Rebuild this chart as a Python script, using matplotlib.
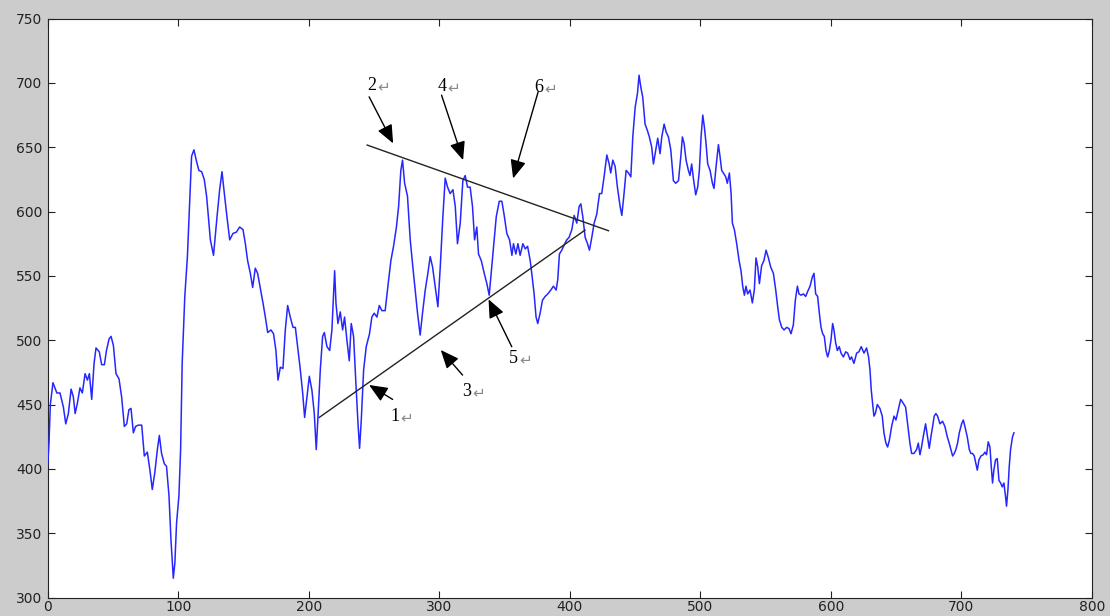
import matplotlib
matplotlib.use("Agg")
import matplotlib.pyplot as plt

# sampled series: index positions and prices
idx = [0, 1, 2, 4, 7, 9.4, 12, 13.8, 15.8, 17.9, 19.6, 21, 22.7, 24.7, 26.5, 28.6, 30.4, 31.9,
       33.7, 35.5, 37, 39.5, 41.3, 43.4, 45, 47, 48.5, 50.3, 52.3, 54.6, 56.6, 58.7, 60.5, 62.2,
       63.8, 65.6, 67.3, 69.4, 72, 74, 76.3, 78.3, 80.1, 82, 84, 85.5, 87.2, 89.3, 91, 92.9, 94.4,
       96.2, 97.4, 98.7, 100.5, 101.8, 103, 105, 107, 108.9, 110.2, 112, 114, 115.8, 117.9, 119.9,
       121.7, 124.6, 127, 129.7, 131.7, 133.5, 135.3, 137.3, 139.4, 141.9, 144.5, 147, 149.6,
       151.4, 153.1, 155.2, 157, 159, 160.8, 162.8, 164.9, 166.7, 168.5, 171, 173, 174.8, 176.4,
       178.2, 180.2, 182, 183.8, 185.8, 187.9, 189.7, 191.4, 193.5, 195.3, 196.8, 198.6, 200.4,
       202.4, 204.2, 205.7, 207, 208.8, 210.6, 211.9, 213.9, 216, 217.7, 219, 219.8, 220.8, 222.3,
       224.1, 225.9, 227.4, 229.2, 231, 232.5, 234.3, 236.1, 237.7, 238.9, 240.2, 242, 244,
       246.5, 248.3, 250.1, 252.2, 254, 256, 258.5, 260.6, 262.9, 264.9, 267, 268.8, 270.5,
       271.8, 273.4, 275.6, 277.7, 279.7, 281.5, 283.3, 285.3, 287.1, 289.2, 291.2, 293, 294.8,
       296.8, 298.9, 300.7, 302.7, 304.5, 306.3, 308.3, 310.4, 312.2, 313.9, 316, 318, 319.8,
       321.6, 323.6, 325.4, 327, 328.7, 330, 332.1, 334.4, 336.4, 338.2, 339.7, 341.5, 343.6,
       345.9, 347.9, 349.7, 351.7, 353.8, 355.6, 356.8, 358.6, 360.2, 361.9, 364, 365.8, 367.6,
       369.6, 370.8, 372.6, 374.1, 375.4, 377.2, 379, 381, 383.1, 385.4, 387.4, 389.5, 390.7,
       392, 393.8, 395.6, 397.6, 399.4, 401.5, 403.3, 405.3, 407.1, 408.4, 409.9, 411.7, 413.5,
       415, 416.8, 418.6, 420.6, 422.7, 424.4, 426.2, 428.3, 430.1, 431.3, 432.9, 434.7, 436.4,
       438.5, 439.8, 441.5, 443.1, 444.9, 446.7, 448.2, 450, 451.8, 453, 454.3, 455.8, 457.6,
       459.4, 460.9, 462.7, 464, 465.8, 467.3, 469.1, 470.4, 472.2, 473.7, 475.5, 477.3, 479.3,
       481.1, 483.2, 485, 486.2, 487.5, 489, 490.8, 492, 493.3, 494.6, 496.4, 497.9, 499.2,
       500.5, 501.8, 503, 504.3, 505.6, 507.4, 509.2, 510.4, 512, 513.8, 515, 516.3, 517.6,
       519.4, 520.6, 522.2, 523.5, 524.5, 526, 527.8, 529.6, 531.1, 532.4, 533.7, 534.9, 536.2,
       538, 539.8, 541.3, 542.6, 543.9, 545.2, 546.9, 548.7, 550.3, 552.1, 553.8, 555.9, 557.7,
       559.2, 560.5, 562.3, 564.1, 566.1, 567.9, 569.4, 571.2, 572.7, 574.3, 575.5, 577.1,
       578.9, 580.6, 582.2, 584, 585.7, 587, 588.3, 589.8, 591.1, 592.4, 593.7, 594.9, 596.2,
       597.5, 598.8, 600, 601.3, 602.3, 603.6, 604.9, 606.4, 607.7, 609.5, 611.3, 612.8, 614.6,
       615.8, 617.6, 619.7, 621.4, 623.2, 625.3, 627.3, 628.8, 629.9, 630.9, 631.9, 632.9, 634,
       635.5, 637.5, 639.3, 640.6, 642.1, 643.4, 644.7, 646.5, 648.3, 649.8, 651.6, 653.4,
       655.4, 657.2, 658.7, 660.5, 661.8, 663.6, 665.6, 666.9, 668.2, 669.4, 670.7, 672.5, 674,
       675.3, 676.6, 677.9, 679.1, 680.4, 681.7, 683.5, 685.5, 687.3, 689.1, 690.6, 691.9,
       693.2, 694.5, 695.7, 697, 698.3, 700.1, 701.4, 702.6, 704.4, 706, 707.2, 708.5, 709.8,
       711.1, 712.1, 713.4, 714.9, 716.7, 718, 719.2, 720.5, 721.8, 722.8, 723.8, 724.8, 726.1,
       727.4, 728.7, 730, 731.2, 732.5, 733.8, 734.5, 735.6, 736.6, 737.6, 739.1, 740.2]

price = [403, 421, 450, 467, 459, 459, 448, 435, 443, 462, 456, 443, 451, 463, 459, 474, 469, 474,
         454, 482, 494, 491, 481, 481, 492, 501, 503, 496, 474, 470, 456, 433, 435, 446,
         447, 428, 433, 434, 434, 410, 413, 399, 384, 397, 415, 426, 412, 404, 402, 379, 345,
         315, 327, 358, 379, 415, 482, 534, 565, 612, 643, 648, 639, 632, 631, 625,
         612, 578, 566, 596, 617, 631, 614, 596, 578, 583, 584, 588, 586,
         575, 562, 552, 541, 556, 552, 541, 529, 518, 506, 508, 505, 492, 469,
         479, 478, 508, 527, 518, 510, 510, 495, 477, 459, 440, 456, 472,
         461, 443, 415, 440, 477, 503, 506, 495, 492, 508, 536, 554, 529, 513,
         522, 508, 518, 500, 484, 513, 503, 466, 435, 416, 438, 477, 495,
         505, 518, 521, 518, 527, 523, 523, 542, 562, 573, 587, 604, 632,
         640, 622, 612, 578, 557, 539, 521, 504, 521, 539, 552, 565, 557,
         542, 526, 557, 596, 626, 619, 614, 617, 604, 575, 591, 624, 628,
         619, 619, 604, 578, 588, 567, 562, 552, 544, 535, 552, 573, 596,
         608, 608, 597, 583, 578, 566, 575, 567, 575, 566, 575, 571, 573,
         562, 552, 536, 518, 513, 521, 531, 534, 536, 539, 542, 539, 547,
         567, 570, 574, 578, 580, 586, 597, 591, 604, 606, 596, 580, 575,
         570, 580, 591, 598, 614, 614, 627, 644, 637, 630, 640, 635, 619,
         604, 597, 614, 632, 630, 627, 658, 681, 692, 706, 697, 689, 668,
         663, 658, 650, 637, 648, 657, 645, 658, 668, 662, 658, 648, 624,
         622, 624, 643, 658, 653, 640, 632, 628, 637, 626, 613, 619, 632,
         658, 675, 666, 653, 637, 632, 622, 618, 635, 652, 643, 632, 630,
         627, 622, 630, 614, 591, 586, 575, 562, 554, 542, 535, 542, 536,
         539, 529, 539, 564, 557, 544, 558, 562, 570, 564, 557, 552, 539,
         526, 516, 510, 508, 510, 509, 505, 512, 531, 542, 536, 535,
         536, 534, 538, 542, 549, 552, 536, 534, 521, 510, 505, 503, 492,
         487, 492, 500, 513, 508, 498, 492, 495, 490, 487, 491, 490, 485,
         487, 482, 490, 491, 495, 490, 494, 487, 477, 461, 451, 441, 443,
         450, 447, 441, 428, 420, 417, 422, 433, 441, 438, 446, 454,
         451, 448, 435, 420, 412, 412, 415, 420, 411, 417, 425, 435, 425,
         416, 425, 433, 441, 443, 441, 435, 437, 433, 425, 420, 415,
         410, 412, 415, 420, 428, 435, 438, 433, 425, 415, 412, 412, 410,
         404, 399, 407, 410, 411, 413, 411, 421, 417, 402, 389, 399, 407,
         408, 391, 389, 386, 389, 378, 371, 384, 402, 415, 425, 428]

# triangle boundary lines (upper resistance, lower support)
upper_x = [244.7, 429.6]
upper_y = [651.7, 585.1]
lower_x = [208.0, 411.6]
lower_y = [440.0, 585.6]

# numbered callouts: label, arrow tail, arrow head, label position
marks = ["1", "2", "3", "4", "5", "6"]
tail_xy = [(264.2, 454.0), (246.2, 689.2), (317.8, 472.9), (301.7, 690.5), (355.5, 494.9), (375.7, 693.1)]
head_xy = [(246.2, 465.2), (264.6, 653.0), (301.1, 492.4), (318.2, 640.0), (337.7, 531.8), (356.5, 625.8)]
label_xy = [(265.9, 440.5), (248.1, 698.3), (321.1, 459.9), (302.1, 697.5), (356.8, 485.9), (376.4, 696.5)]

fig = plt.figure(figsize=(11.1, 6.16), dpi=100, facecolor="#cccccc")
ax = fig.add_axes([0.0430, 0.0300, 0.9408, 0.9398])
ax.set_facecolor("white")

ax.plot(idx, price, color=(0.15, 0.15, 1.0), lw=1.1, zorder=3)
ax.plot(upper_x, upper_y, color="#222222", lw=1.0, zorder=4)
ax.plot(lower_x, lower_y, color="#222222", lw=1.0, zorder=4)

for m, t, h, lp in zip(marks, tail_xy, head_xy, label_xy):
    ax.annotate("", xy=h, xytext=t,
                arrowprops=dict(arrowstyle="-|>,head_length=0.75,head_width=0.32",
                                color="black", lw=1.0, mutation_scale=15,
                                shrinkA=0, shrinkB=0), zorder=5)
    ax.text(lp[0], lp[1], m, ha="center", va="center", fontsize=13,
            family=["Liberation Serif", "DejaVu Sans"], color="black", zorder=6)
    ax.annotate("\u21b5", xy=lp, xytext=(4, -1), textcoords="offset points",
                ha="left", va="center", fontsize=11, color="#8a8a8a",
                family=["DejaVu Sans"], zorder=6)

ax.set_xlim(0, 800)
ax.set_ylim(300, 750)
ax.set_xticks(range(0, 801, 100))
ax.set_yticks(range(300, 751, 50))
ax.tick_params(direction="in", top=True, right=True, length=5, width=0.8,
               labelsize=10, colors="#222222")
ax.tick_params(axis="x", pad=2)
ax.tick_params(axis="y", pad=4)
for s in ax.spines.values():
    s.set_color("#222222")
    s.set_linewidth(0.8)

fig.savefig("out.png", dpi=100, facecolor=fig.get_facecolor())
